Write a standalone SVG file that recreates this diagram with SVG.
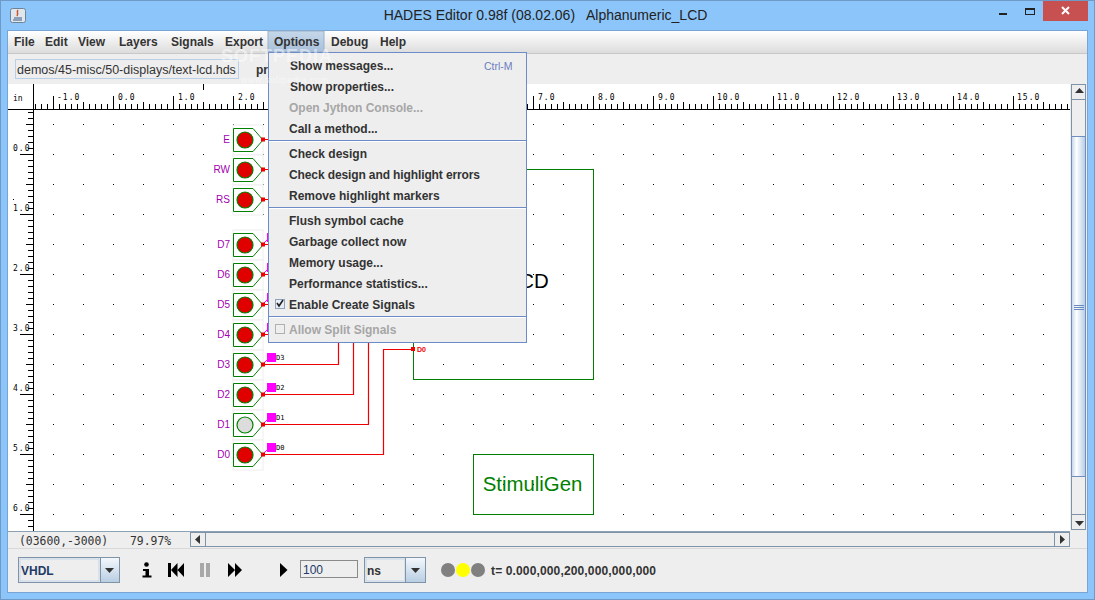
<svg xmlns="http://www.w3.org/2000/svg" xmlns:xlink="http://www.w3.org/1999/xlink" width="1095" height="600" viewBox="0 0 1095 600">
<style>
text{font-family:"Liberation Sans",Arial,sans-serif;white-space:pre}
.m{font-size:12px;font-weight:bold;fill:#333}
.dis{font-size:12px;font-weight:bold;fill:#a6a6a6}
.r{font-family:"DejaVu Sans Mono","Liberation Mono",monospace;font-size:8px;letter-spacing:1px;fill:#000}
.st{font-family:"DejaVu Sans Mono","Liberation Mono",monospace;font-size:11.400px;fill:#333}
.lab{font-size:10px;fill:#a000b0;text-anchor:end}
.pin{font-family:"DejaVu Sans Mono",monospace;font-size:7px;fill:#000}
.wire{fill:none;stroke:#f00000;stroke-width:1.200}
.pinl{fill:none;stroke:#ff00ff;stroke-width:1}
.sep{stroke:#6b8cc8;stroke-width:1}
.b{fill:#eee;stroke:#7f93a8;stroke-width:1}
.g{fill:none;stroke:#008000;stroke-width:1}
.pt{fill:#f00000}
.sq{fill:#ff00ff}
</style>
<defs>
<linearGradient id="mb" x1="0" y1="0" x2="0" y2="1"><stop offset="0" stop-color="#fff"/><stop offset="1" stop-color="#dcdcdc"/></linearGradient>
<linearGradient id="hl" x1="0" y1="0" x2="0" y2="1"><stop offset="0" stop-color="#c6d8ea"/><stop offset="1" stop-color="#a8c0da"/></linearGradient>
<linearGradient id="th" x1="0" y1="0" x2="1" y2="0"><stop offset="0" stop-color="#c0d4ea"/><stop offset=".35" stop-color="#fff"/><stop offset="1" stop-color="#b4cbe4"/></linearGradient>
<linearGradient id="cb" x1="0" y1="0" x2="0" y2="1"><stop offset="0" stop-color="#f4f8fc"/><stop offset="1" stop-color="#b8cde2"/></linearGradient>
<pattern id="dots" x="53" y="124" width="30" height="30" patternUnits="userSpaceOnUse"><rect width="1" height="1" fill="#000"/></pattern>
<pattern id="hmin" x="53" y="104" width="6" height="5" patternUnits="userSpaceOnUse"><rect width="1" height="5" fill="#000"/></pattern>
<pattern id="hmed" x="53" y="102" width="30" height="7" patternUnits="userSpaceOnUse"><rect width="1" height="7" fill="#000"/></pattern>
<pattern id="hmaj" x="53" y="96" width="60" height="13" patternUnits="userSpaceOnUse"><rect width="1" height="13" fill="#000"/></pattern>
<pattern id="vmin" x="28" y="112" width="5" height="6" patternUnits="userSpaceOnUse"><rect width="5" height="1" fill="#000"/></pattern>
<pattern id="vmed" x="26" y="124" width="7" height="30" patternUnits="userSpaceOnUse"><rect width="7" height="1" fill="#000"/></pattern>
<pattern id="vmaj" x="20" y="154" width="13" height="60" patternUnits="userSpaceOnUse"><rect width="13" height="1" fill="#000"/></pattern>
<g id="sw"><rect x="233" y="-15" width="30" height="30" fill="#fff" stroke="#eee"/><polygon points="233.500,-11.500 253,-11.500 263,0 253,11.500 233.500,11.500" fill="#fff" stroke="#008000"/><circle cx="245" cy="0" r="8" fill="#e00000" stroke="#008000" stroke-width="1.200"/></g>
<path id="dn" d="M0 0h9l-4.500 5z" fill="#333"/>
</defs>

<!-- window -->
<rect width="1095" height="600" fill="#8cc5fa"/>
<rect x="0.500" y="0.500" width="1094" height="599" fill="none" stroke="#6f9ac8"/>
<rect x="7.500" y="30.500" width="1080" height="562" fill="#eee" stroke="#76a5d6"/>
<text x="545.500" y="20" font-size="14" text-anchor="middle" fill="#222">HADES Editor 0.98f (08.02.06)   Alphanumeric_LCD</text>
<g id="title-icon"><rect x="10.500" y="8.500" width="15" height="14" rx="2" fill="#dfe6ee" stroke="#6f8296"/><path d="M14 18h8M13 20h9" stroke="#3a5a80" fill="none"/><path d="M18 10c-2 2 1 3-1 6" stroke="#d05020" fill="none" stroke-width="1.500"/></g>
<rect x="999" y="13" width="8" height="2" fill="#222"/>
<rect x="1025.500" y="8.500" width="9" height="6" fill="none" stroke="#222"/><rect x="1025" y="8" width="10" height="2" fill="#222"/>
<rect x="1043" y="1" width="45" height="20" fill="#c75050"/>
<path d="M1062 7l7 7M1069 7l-7 7" stroke="#fff" stroke-width="2" fill="none"/>

<!-- menu bar -->
<rect x="8" y="31" width="1079" height="22" fill="url(#mb)"/>
<rect x="8" y="53" width="1079" height="1" fill="#c8c8c8"/>
<rect x="268" y="31" width="56" height="21" fill="url(#hl)" stroke="#9ab0c8"/>
<g class="mt">
<text class="m" x="14" y="46">File</text><text class="m" x="45" y="46">Edit</text><text class="m" x="78" y="46">View</text><text class="m" x="119" y="46">Layers</text><text class="m" x="171" y="46">Signals</text><text class="m" x="225" y="46">Export</text><text class="m" x="274" y="46">Options</text><text class="m" x="331" y="46">Debug</text><text class="m" x="380" y="46">Help</text>
</g>
<rect x="15.500" y="59.500" width="223" height="19" fill="#eee" stroke="#b8cfe5"/>
<text x="17" y="74" font-size="12.500" fill="#333">demos/45-misc/50-displays/text-lcd.hds</text>
<text class="m" x="256" y="74">pr</text>

<!-- canvas -->
<rect x="8" y="84" width="1062" height="447" fill="#fff"/>
<rect x="33" y="110" width="1037" height="421" fill="url(#dots)"/>
<rect x="33" y="104" width="1037" height="5" fill="url(#hmin)"/>
<rect x="33" y="102" width="1037" height="7" fill="url(#hmed)"/>
<rect x="33" y="96" width="1037" height="13" fill="url(#hmaj)"/>
<rect x="28" y="110" width="5" height="421" fill="url(#vmin)"/>
<rect x="26" y="110" width="7" height="421" fill="url(#vmed)"/>
<rect x="20" y="110" width="13" height="421" fill="url(#vmaj)"/>
<rect x="8" y="109" width="1062" height="1" fill="#000"/>
<rect x="33" y="84" width="1" height="447" fill="#000"/>
<rect x="203" y="84" width="1" height="6" fill="#000"/>
<rect x="13" y="199" width="1" height="1" fill="#000"/>
<text class="r" x="13" y="101" style="letter-spacing:0">in</text>
<g id="ruler-h">
<text class="r" x="57" y="100">-1.0</text><text class="r" x="118" y="100">0.0</text><text class="r" x="178" y="100">1.0</text><text class="r" x="238" y="100">2.0</text><text class="r" x="538" y="100">7.0</text><text class="r" x="598" y="100">8.0</text><text class="r" x="658" y="100">9.0</text><text class="r" x="717" y="100">10.0</text><text class="r" x="777" y="100">11.0</text><text class="r" x="837" y="100">12.0</text><text class="r" x="897" y="100">13.0</text><text class="r" x="957" y="100">14.0</text><text class="r" x="1017" y="100">15.0</text>
</g>
<g id="ruler-v">
<text class="r" x="13" y="151">0.0</text><text class="r" x="13" y="211">1.0</text><text class="r" x="13" y="271">2.0</text><text class="r" x="13" y="331">3.0</text><text class="r" x="13" y="391">4.0</text><text class="r" x="13" y="451">5.0</text><text class="r" x="13" y="511">6.0</text>
</g>

<!-- connectors -->
<g id="connectors">
<path class="wire" d="M263 139.500H270M263 169.500H270M263 199.500H270M263 244.500H270M263 274.500H270M263 304.500H270M263 334.500H270"/>
<path class="wire" d="M263 364.500H338.500V340"/>
<path class="wire" d="M263 394.500H353.500V340"/>
<path class="wire" d="M263 424.500H368.500V340"/>
<path class="wire" d="M263 454.500H383.500V349.500H413"/>
<path class="pinl" d="M263 244l5-5M263 274l5-5M263 304l5-5M263 334l5-5M263 364l5-5M263 394l5-5M263 424l5-5M263 454l5-5"/>
</g>

<!-- nodes -->
<g id="node-lcd"><rect class="g" x="413.500" y="169.500" width="180" height="210"/><text x="508" y="288" font-size="20.400" fill="#000">LCD</text><rect class="pt" x="411" y="347" width="4" height="4"/><text x="417" y="352" font-family="DejaVu Sans Mono" font-size="7" font-weight="bold" fill="#f00000">D0</text></g>
<g id="node-stimuligen"><rect class="g" x="473.500" y="454.500" width="120" height="60"/><text x="532.500" y="491" font-size="20.400" fill="#008000" text-anchor="middle">StimuliGen</text></g>
<g id="node-E"><use xlink:href="#sw" href="#sw" y="140"/><rect class="pt" x="261" y="137.500" width="4" height="4"/><text class="lab" x="230" y="143">E</text></g>
<g id="node-RW"><use xlink:href="#sw" href="#sw" y="170"/><rect class="pt" x="261" y="167.500" width="4" height="4"/><text class="lab" x="230" y="173">RW</text></g>
<g id="node-RS"><use xlink:href="#sw" href="#sw" y="200"/><rect class="pt" x="261" y="197.500" width="4" height="4"/><text class="lab" x="230" y="203">RS</text></g>
<g id="node-D7"><use xlink:href="#sw" href="#sw" y="245"/><rect class="pt" x="261" y="242.500" width="4" height="4"/><rect class="sq" x="267" y="233" width="9" height="9"/><text class="lab" x="230" y="248">D7</text></g>
<g id="node-D6"><use xlink:href="#sw" href="#sw" y="275"/><rect class="pt" x="261" y="272.500" width="4" height="4"/><rect class="sq" x="267" y="263" width="9" height="9"/><text class="lab" x="230" y="278">D6</text></g>
<g id="node-D5"><use xlink:href="#sw" href="#sw" y="305"/><rect class="pt" x="261" y="302.500" width="4" height="4"/><rect class="sq" x="267" y="293" width="9" height="9"/><text class="lab" x="230" y="308">D5</text></g>
<g id="node-D4"><use xlink:href="#sw" href="#sw" y="335"/><rect class="pt" x="261" y="332.500" width="4" height="4"/><rect class="sq" x="267" y="323" width="9" height="9"/><text class="lab" x="230" y="338">D4</text></g>
<g id="node-D3"><use xlink:href="#sw" href="#sw" y="365"/><rect class="pt" x="261" y="362.500" width="4" height="4"/><rect class="sq" x="267" y="353" width="9" height="9"/><text class="pin" x="276" y="360">D3</text><text class="lab" x="230" y="368">D3</text></g>
<g id="node-D2"><use xlink:href="#sw" href="#sw" y="395"/><rect class="pt" x="261" y="392.500" width="4" height="4"/><rect class="sq" x="267" y="383" width="9" height="9"/><text class="pin" x="276" y="390">D2</text><text class="lab" x="230" y="398">D2</text></g>
<g id="node-D1"><rect x="233" y="410" width="30" height="30" fill="#fff" stroke="#eee"/><polygon points="233.500,413.500 253,413.500 263,425 253,436.500 233.500,436.500" fill="#fff" stroke="#008000"/><circle cx="245" cy="425" r="8" fill="#dcdcdc" stroke="#008000" stroke-width="1.200"/><rect class="pt" x="261" y="422.500" width="4" height="4"/><rect class="sq" x="267" y="413" width="9" height="9"/><text class="pin" x="276" y="420">D1</text><text class="lab" x="230" y="428">D1</text></g>
<g id="node-D0"><use xlink:href="#sw" href="#sw" y="455"/><rect class="pt" x="261" y="452.500" width="4" height="4"/><rect class="sq" x="267" y="443" width="9" height="9"/><text class="pin" x="276" y="450">D0</text><text class="lab" x="230" y="458">D0</text></g>

<!-- Options menu -->
<g id="options-menu">
<rect x="268.500" y="52.500" width="258" height="290" fill="#eee" stroke="#6b8cc8"/>
<path class="sep" d="M269 140.500H526M269 207.500H526M269 316.500H526"/>
<path d="M269 141.500H526M269 208.500H526M269 317.500H526" stroke="#fff"/>
<text class="m" x="290" y="70">Show messages...</text><text x="484" y="70" font-size="10.500" fill="#6b80c0">Ctrl-M</text>
<text class="m" x="290" y="91">Show properties...</text>
<text class="dis" x="289" y="112">Open Jython Console...</text>
<text class="m" x="289" y="133">Call a method...</text>
<text class="m" x="289" y="158">Check design</text>
<text class="m" x="289" y="179" textLength="191">Check design and highlight errors</text>
<text class="m" x="289" y="200">Remove highlight markers</text>
<text class="m" x="289" y="225">Flush symbol cache</text>
<text class="m" x="289" y="246">Garbage collect now</text>
<text class="m" x="289" y="267">Memory usage...</text>
<text class="m" x="289" y="288">Performance statistics...</text>
<rect x="275.500" y="299.500" width="9" height="9" fill="#e8eef6" stroke="#8ea4bc"/><path d="M277 303l2 3 4-6" fill="none" stroke="#222" stroke-width="1.600"/>
<text class="m" x="289" y="309">Enable Create Signals</text>
<rect x="275.500" y="324.500" width="9" height="9" fill="#eee" stroke="#b0b0b0"/>
<text class="dis" x="289" y="334">Allow Split Signals</text>
</g>

<!-- vertical scrollbar -->
<g id="vscroll">
<rect x="1071.500" y="84.500" width="14" height="445" class="b"/>
<rect x="1071.500" y="84.500" width="14" height="15" class="b"/><path d="M1075 93h9l-4.500-5z" fill="#333"/>
<rect x="1071.500" y="136.500" width="14" height="340" fill="url(#th)" stroke="#6f8fc0"/>
<path d="M1074 305.500h10M1074 307.500h10M1074 309.500h10" stroke="#6a88c0"/>
<rect x="1071.500" y="514.500" width="14" height="15" class="b"/><use xlink:href="#dn" href="#dn" x="1075" y="521"/>
</g>
<!-- horizontal scrollbar -->
<g id="hscroll">
<rect x="190.500" y="532.500" width="879" height="14" class="b"/>
<rect x="190.500" y="532.500" width="15" height="14" class="b"/><path d="M200 535v9l-5-4.500z" fill="#333"/>
<rect x="1054.500" y="532.500" width="15" height="14" class="b"/><path d="M1060 535v9l5-4.500z" fill="#333"/>
</g>
<rect x="8" y="531" width="1062" height="1" fill="#8ea0b4"/>
<text class="st" x="19" y="545">(03600,-3000)</text><text class="st" x="130" y="545">79.97%</text>
<rect x="8" y="548" width="1079" height="1" fill="#d8d8d8"/>

<!-- control bar -->
<g id="controls">
<rect x="18.500" y="557.500" width="101" height="25" fill="#eee" stroke="#7f93a8"/><rect x="20" y="559" width="79" height="22" fill="none" stroke="#c4d4e6"/><rect x="100.500" y="557.500" width="19" height="25" fill="url(#cb)" stroke="#7f93a8"/><use xlink:href="#dn" href="#dn" x="105" y="568"/>
<text x="21" y="575" font-size="12" font-weight="bold" fill="#223a66">VHDL</text>
<path d="M143 569h6v6.500h2.500v2h-9v-2h3v-4.500h-2.500z" fill="#000"/><circle cx="146.500" cy="564.500" r="2.300" fill="#000"/>
<path d="M168 563h3v14h-3zM171 570l6.500-7v14zM177.500 570l6.500-7v14z" fill="#000"/>
<path d="M200 563h4v14h-4zM206 563h4v14h-4z" fill="#a8a8a8"/>
<path d="M228 563l7 7-7 7zM235 563l7 7-7 7z" fill="#000"/>
<path d="M280 563l7.500 7-7.500 7z" fill="#000"/>
<rect x="300.500" y="560.500" width="57" height="17" fill="#eee" stroke="#8a8a8a"/>
<text x="303" y="574" font-size="12" fill="#223a66">100</text>
<rect x="364.500" y="557.500" width="61" height="25" fill="#eee" stroke="#7f93a8"/><rect x="366" y="559" width="39" height="22" fill="none" stroke="#c4d4e6"/><rect x="405.500" y="557.500" width="20" height="25" fill="url(#cb)" stroke="#7f93a8"/><use xlink:href="#dn" href="#dn" x="411" y="568"/>
<text x="367" y="575" font-size="12" font-weight="bold" fill="#333">ns</text>
<circle cx="448" cy="570" r="7" fill="#808080"/><circle cx="463" cy="570" r="7" fill="#ffff00"/><circle cx="478" cy="570" r="7" fill="#808080"/>
<text class="m" x="491" y="575" textLength="165">t= 0.000,000,200,000,000,000</text>
</g>

<!-- watermark -->
<text x="221" y="62" font-family="Liberation Serif" font-size="18" font-weight="bold" fill="#fff" opacity=".45" letter-spacing="1">SOFTPEDIA</text>
<text x="241" y="83" font-family="Liberation Sans" font-size="9" fill="#fff" opacity=".5" letter-spacing=".6">www.softpedia.com</text>
</svg>
